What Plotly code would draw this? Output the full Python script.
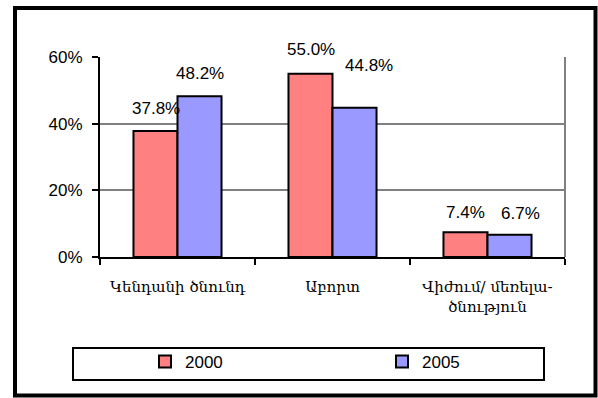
import plotly.graph_objects as go

# Outcome categories (Armenian) and shares by survey year
categories = ["Կենդանի ծնունդ", "Աբորտ", "Վիժում/ մեռելա-<br>ծնություն"]
years = ["2000", "2005"]
share_2000 = [0.378, 0.550, 0.074]
share_2005 = [0.482, 0.448, 0.067]

bar_colors = ["#FF8080", "#9999FF"]
legend_ids = ["legend", "legend2"]
# pixel nudges for the value labels (x, y), per series and category
label_nudge = {
    "2000": [(-22, 23), (-22, 24), (-22, 20)],
    "2005": [(22, 23), (36, 42), (33, 21)],
}

W, H = 598, 398
ML, MR, MT, MB = 100, 33, 57, 141
PW, PH = W - ML - MR, H - MT - MB


def px_x(p):
    return (p - ML) / PW


def px_y(p):
    return (H - MB - p) / PH


fig = go.Figure()
for name, vals, col, lg in zip(years, [share_2000, share_2005], bar_colors, legend_ids):
    fig.add_trace(go.Bar(
        x=categories, y=vals, name=name, legend=lg,
        marker=dict(color=col, line=dict(color="black", width=2)),
    ))
    for cat, v, (dx, dy) in zip(categories, vals, label_nudge[name]):
        fig.add_annotation(
            x=cat, y=v, text=f"{v*100:.1f}%", showarrow=False,
            xshift=dx, yshift=dy, yanchor="middle",
            font=dict(family="Liberation Sans, Arial", size=17, color="black"),
        )

shapes = [
    # outer frame
    dict(type="rect", xref="paper", yref="paper",
         x0=px_x(15), x1=px_x(595.5), y0=px_y(395.5), y1=px_y(8),
         line=dict(color="black", width=4), layer="below"),
    # right edge of plot area
    dict(type="line", xref="paper", yref="paper",
         x0=1, x1=1, y0=0, y1=1, line=dict(color="#808080", width=2)),
    # legend frame
    dict(type="rect", xref="paper", yref="paper",
         x0=px_x(73), x1=px_x(544), y0=px_y(380), y1=px_y(348),
         line=dict(color="black", width=2)),
]

legend_style = dict(
    xanchor="left", yanchor="middle", y=px_y(362),
    bgcolor="rgba(0,0,0,0)", borderwidth=0,
    font=dict(family="Liberation Sans, Arial", size=17),
)

fig.update_layout(
    width=W, height=H,
    margin=dict(l=ML, r=MR, t=MT, b=MB, autoexpand=False),
    paper_bgcolor="white", plot_bgcolor="white",
    barmode="group", bargap=0.432, bargroupgap=0,
    font=dict(family="Liberation Sans, Arial", size=17, color="black"),
    showlegend=True,
    legend=dict(x=px_x(145), **legend_style),
    legend2=dict(x=px_x(382), **legend_style),
    shapes=shapes,
    xaxis=dict(
        showline=True, linecolor="black", linewidth=2,
        ticks="outside", tickson="boundaries", ticklen=6, tickwidth=2, tickcolor="black",
        ticklabelstandoff=15,
        tickfont=dict(family="DejaVu Serif", size=15),
        showgrid=False,
    ),
    yaxis=dict(
        range=[0, 0.6], dtick=0.2, tickformat=".0%",
        showline=True, linecolor="black", linewidth=2,
        ticks="outside", ticklen=6, tickwidth=2, tickcolor="black",
        ticklabelstandoff=6,
        showgrid=True, gridcolor="#808080", gridwidth=2,
        zeroline=False,
    ),
)

fig.write_html("out.html")
